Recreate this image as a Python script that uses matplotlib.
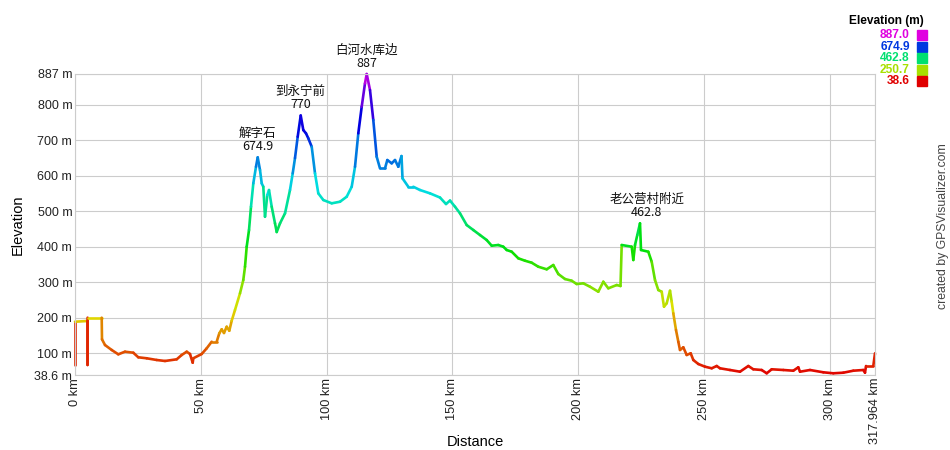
import numpy as np
import matplotlib
matplotlib.use("Agg")
import matplotlib.pyplot as plt
import matplotlib.colors as mcolors
from matplotlib.collections import LineCollection

# track profile: distance [km], elevation [m]
dist_km = [0.0, 0.0, 4.97, 4.98, 5.01, 10.61, 10.73, 11.92, 14.59, 17.21,
           19.87, 23.17, 25.16, 28.50, 32.47, 35.77, 40.42, 42.41, 44.40, 45.71,
           46.78, 47.02, 50.36, 52.34, 54.33, 56.32, 57.35, 58.31, 59.22, 60.29,
           61.33, 62.28, 63.59, 65.58, 66.89, 67.57, 68.24, 69.16, 69.95, 70.87,
           71.94, 72.62, 73.53, 74.21, 74.84, 75.52, 76.43, 77.11, 78.18, 79.49,
           80.17, 81.48, 83.47, 85.45, 86.53, 87.44, 88.51, 89.71, 90.74, 91.81,
           92.73, 94.08, 95.39, 96.70, 98.69, 102.03, 105.33, 107.99, 109.98, 111.29,
           112.60, 113.95, 115.26, 115.94, 117.25, 118.56, 119.91, 121.22, 123.21, 124.13,
           125.87, 127.19, 128.50, 129.77, 130.17, 132.47, 134.46, 137.12, 141.10, 145.07,
           147.46, 149.05, 151.03, 153.02, 155.68, 158.31, 160.97, 163.63, 165.62, 168.24,
           170.23, 171.58, 173.57, 176.19, 178.86, 181.52, 184.14, 187.48, 190.10, 192.09,
           194.75, 197.42, 199.40, 202.03, 204.69, 207.99, 209.98, 211.96, 215.30, 216.81,
           217.29, 221.26, 221.90, 222.58, 223.49, 224.56, 224.96, 227.86, 229.21, 230.52,
           231.84, 233.19, 234.10, 235.17, 236.49, 237.16, 237.80, 238.87, 239.79, 240.46,
           241.77, 243.12, 244.71, 245.75, 247.73, 250.40, 253.06, 255.05, 256.36, 260.33,
           264.31, 267.61, 269.59, 272.93, 274.92, 276.91, 281.52, 285.49, 287.48, 288.16,
           292.13, 297.42, 301.39, 305.37, 309.34, 313.32, 313.99, 314.39, 317.29, 317.964]
elev_m = [66.8, 188.8, 190.8, 66.8, 200.1, 200.1, 139.2, 123.1, 109.1, 96.9,
          104.3, 101.4, 88.5, 85.7, 80.9, 78.1, 82.8, 95.0, 104.3, 97.8,
          73.3, 85.7, 97.8, 113.8, 132.4, 132.4, 156.1, 167.4, 157.0, 174.7,
          163.4, 191.6, 221.8, 268.8, 306.3, 343.8, 400.2, 447.2, 512.9, 578.8,
          625.6, 652.0, 616.3, 578.8, 569.2, 484.7, 545.8, 560.0, 512.9, 466.1,
          441.6, 466.1, 494.3, 560.0, 607.0, 650.1, 710.1, 770.0, 729.0, 719.7,
          705.6, 682.0, 607.0, 550.6, 531.8, 522.5, 527.0, 541.1, 569.2, 625.6,
          719.7, 794.7, 860.6, 887.0, 841.7, 757.2, 653.8, 621.1, 621.1, 644.5,
          635.2, 644.5, 625.6, 655.7, 592.9, 569.2, 569.2, 560.0, 550.6, 538.8,
          520.5, 530.3, 512.9, 494.3, 461.3, 447.2, 433.1, 419.0, 403.0, 405.0,
          400.2, 390.9, 386.1, 367.5, 360.7, 355.1, 343.8, 336.5, 348.6, 323.2,
          309.1, 304.3, 295.0, 297.0, 287.4, 273.3, 301.5, 282.9, 292.2, 289.4,
          405.0, 400.2, 362.7, 405.0, 433.1, 466.1, 390.9, 386.1, 357.9, 306.3,
          278.1, 273.3, 231.1, 240.6, 276.2, 245.2, 212.5, 165.4, 132.4, 109.1,
          116.7, 95.0, 99.8, 80.9, 69.6, 62.0, 57.5, 64.0, 57.5, 52.7,
          47.9, 64.0, 54.7, 52.7, 43.4, 54.7, 52.7, 50.7, 60.3, 47.9,
          52.7, 46.2, 43.4, 45.1, 50.7, 52.7, 45.1, 64.0, 64.0, 99.8]

# waypoints
wpt_names = ["解字石", "到永宁前", "白河水库边", "老公营村附近"]
wpt_values = ["674.9", "770", "887", "462.8"]
wpt_km = [72.6, 89.7, 115.9, 227.3]
wpt_elev = [652.0, 770.0, 887.0, 466.0]

emin, emax = 38.6, 887.0
total_km = 317.964
ytick_vals = [38.6, 100, 200, 300, 400, 500, 600, 700, 800, 887]
xtick_vals = [0, 50, 100, 150, 200, 250, 300, 317.964]
legend_vals = [887.0, 674.9, 462.8, 250.7, 38.6]


def elev_color(e):
    frac = (e - emin) / (emax - emin)
    return mcolors.hsv_to_rgb((300.0 / 360.0 * frac, 1.0, 0.88))


fig = plt.figure(figsize=(9.5, 4.5), dpi=100)
ax = fig.add_axes([75 / 950, 75 / 450, 800 / 950, 301 / 450])

grid_col = "#cccccc"
ax.set_xlim(0, total_km)
ax.set_ylim(emin, emax)
for s in ax.spines.values():
    s.set_color(grid_col)
    s.set_linewidth(0.8)

ax.set_yticks(ytick_vals)
ax.set_yticklabels(["38.6 m" if v == 38.6 else "%d m" % v for v in ytick_vals],
                   fontsize=9, family="Liberation Sans", color="#222222")
ax.set_xticks(xtick_vals)
ax.set_xticklabels(["317.964 km" if v == total_km else "%d km" % v for v in xtick_vals],
                   rotation=90, fontsize=9.2, family="Liberation Sans", color="#222222")
ax.tick_params(axis="y", length=0, pad=2)
ax.tick_params(axis="x", length=0, pad=2)
ax.grid(True, color=grid_col, linewidth=0.8)
ax.set_axisbelow(True)

# profile line, one colour per segment
pts = np.column_stack([dist_km, elev_m])
segs = np.stack([pts[:-1], pts[1:]], axis=1)
seg_cols = [elev_color(min(a, b)) for a, b in zip(elev_m[:-1], elev_m[1:])]
lc = LineCollection(segs, colors=seg_cols, linewidths=1.9, capstyle="round", joinstyle="round")
lc.set_clip_on(False)
ax.add_collection(lc)

for name, val, k, e in zip(wpt_names, wpt_values, wpt_km, wpt_elev):
    ax.annotate(name + "\n" + val, (k, e), xytext=(0, 3), textcoords="offset points",
                ha="center", va="bottom", fontsize=9, linespacing=1.0,
                family=["Noto Sans CJK SC", "DejaVu Sans"], color="#111111")

fig.text(475 / 950, 1 - 442 / 450, "Distance", ha="center", va="center",
         fontsize=10.5, family="Liberation Sans")
fig.text(18 / 950, 1 - 225 / 450, "Elevation", ha="center", va="center",
         rotation=90, fontsize=10.5, family="Liberation Sans")

# legend
fig.text(924 / 950, 1 - 21 / 450, "Elevation (m)", ha="right", va="center",
         fontsize=8.6, fontweight="bold", family="Liberation Sans")
for i, v in enumerate(legend_vals):
    yy = 1 - (35 + i * 11.6) / 450
    c = elev_color(v)
    fig.text(910 / 950, yy, "%.1f" % v, ha="right", va="center", fontsize=8.6,
             fontweight="bold", family="Liberation Sans", color=c)
    fig.patches.append(plt.Rectangle((917 / 950, yy - 5 / 450), 10 / 950, 10 / 450,
                                     transform=fig.transFigure, color=c))

fig.text(943 / 950, 1 - 226 / 450, "created by GPSVisualizer.com", ha="center", va="center",
         rotation=90, fontsize=8.8, family="Liberation Sans", color="#444444")

fig.savefig("out.png", dpi=100)
